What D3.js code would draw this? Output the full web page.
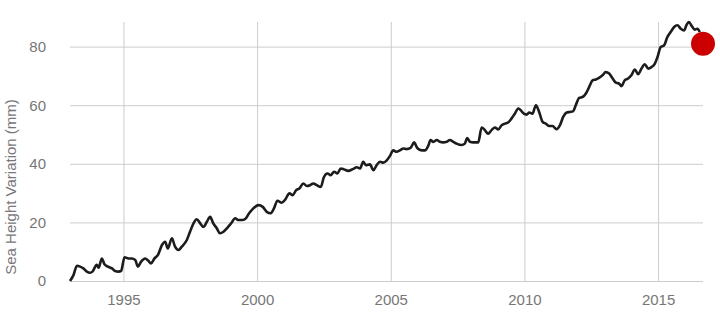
<!DOCTYPE html>
<html>
<head>
<meta charset="utf-8">
<script src="https://cdn.jsdelivr.net/npm/d3@7"></script>
<style>
  body { margin: 0; background: #fff; }
  svg { display: block; font-family: "Liberation Sans", Arial, Helvetica, sans-serif; }
  .grid line { stroke: #cccccc; stroke-width: 1; }
  .grid text { fill: #777; font-size: 15px; }
  .label { fill: #777; font-size: 15px; }
</style>
</head>
<body>
<script>
// satellite sea height variation
var years = [
  1993.0, 1993.13, 1993.26, 1993.38, 1993.5, 1993.63, 1993.75, 1993.84, 1994.0, 1994.07,
  1994.19, 1994.29, 1994.42, 1994.57, 1994.69, 1994.81, 1994.91, 1995.04, 1995.19, 1995.31,
  1995.44, 1995.54, 1995.66, 1995.81, 1995.93, 1996.03, 1996.16, 1996.29, 1996.44, 1996.56,
  1996.66, 1996.81, 1996.93, 1997.06, 1997.18, 1997.37, 1997.49, 1997.62, 1997.74, 1997.87,
  1997.99, 1998.12, 1998.24, 1998.36, 1998.49, 1998.61, 1998.74, 1998.87, 1999.03, 1999.18,
  1999.3, 1999.45, 1999.58, 1999.7, 1999.86, 2000.05, 2000.21, 2000.36, 2000.51, 2000.63,
  2000.76, 2000.92, 2001.05, 2001.21, 2001.33, 2001.46, 2001.58, 2001.73, 2001.86, 2001.98,
  2002.1, 2002.23, 2002.38, 2002.5, 2002.63, 2002.75, 2002.88, 2003.0, 2003.13, 2003.25,
  2003.41, 2003.58, 2003.73, 2003.85, 2003.97, 2004.07, 2004.22, 2004.35, 2004.47, 2004.6,
  2004.72, 2004.85, 2004.97, 2005.09, 2005.22, 2005.34, 2005.47, 2005.59, 2005.74, 2005.87,
  2005.99, 2006.16, 2006.28, 2006.4, 2006.49, 2006.59, 2006.72, 2006.84, 2006.96, 2007.09,
  2007.21, 2007.34, 2007.46, 2007.65, 2007.77, 2007.86, 2007.96, 2008.08, 2008.27, 2008.4,
  2008.52, 2008.64, 2008.77, 2008.9, 2009.02, 2009.15, 2009.27, 2009.39, 2009.52, 2009.64,
  2009.77, 2009.89, 2009.98, 2010.08, 2010.18, 2010.3, 2010.43, 2010.55, 2010.68, 2010.8,
  2010.93, 2011.05, 2011.2, 2011.33, 2011.45, 2011.58, 2011.7, 2011.82, 2011.92, 2012.05,
  2012.17, 2012.3, 2012.42, 2012.55, 2012.67, 2012.79, 2012.92, 2013.04, 2013.17, 2013.3,
  2013.42, 2013.54, 2013.63, 2013.75, 2013.88, 2014.0, 2014.13, 2014.25, 2014.38, 2014.5,
  2014.63, 2014.75, 2014.88, 2014.98, 2015.1, 2015.22, 2015.35, 2015.47, 2015.6, 2015.72,
  2015.85, 2015.97, 2016.06, 2016.15, 2016.27, 2016.37, 2016.47, 2016.56
];
var heights = [
  0, 2, 5.2, 4.9, 4.3, 3.2, 2.8, 3.2, 5.5, 4.5,
  7.7, 5.7, 4.9, 4.3, 3.4, 3.2, 3.4, 8.1, 7.7, 7.7,
  7.2, 4.9, 6.6, 7.7, 6.9, 6.0, 7.7, 8.9, 12.3, 13.4,
  11.1, 14.6, 11.7, 10.6, 11.7, 14, 16.8, 19.7, 21.1, 19.7,
  18.5, 20.2, 21.9, 19.7, 18, 16.3, 16.8, 18, 19.7, 21.4,
  20.8, 20.8, 21.4, 23.1, 24.8, 25.9, 25.3, 23.6, 23.1, 24.8,
  27.4, 26.7, 27.8, 29.9, 29.3, 31, 31.6, 33.3, 32.4, 32.7,
  33.3, 32.7, 32.1, 35.5, 36.7, 36.1, 37.3, 36.7, 38.4, 38.1,
  37.6, 38.2, 38.8, 38.4, 40.7, 39.5, 39.8, 37.8, 39.5, 40.7,
  40.4, 41.2, 42.7, 44.6, 44.1, 44.6, 45.2, 45, 45.4, 47.3,
  45.4, 44.6, 44.6, 46.1, 48.1, 47.5, 48.1, 47.5, 47.3, 47.5,
  48.1, 47.5, 46.9, 46.4, 46.9, 48.8, 47.5, 47.3, 47.3, 52.4,
  51.5, 50.3, 51.5, 52.4, 51.7, 53.2, 53.7, 54.1, 55.5, 57.1,
  58.9, 58, 57.1, 56.8, 57.5, 57.1, 60, 57.7, 54.3, 53.7,
  52.9, 52.9, 51.8, 53.2, 56, 57.5, 57.7, 57.9, 60, 62.5,
  62.8, 64, 66.2, 68.5, 68.8, 69.3, 70.2, 71.3, 70.8, 69.1,
  67.7, 67.4, 66.5, 68.5, 69.1, 70.2, 72.2, 70.6, 72.5, 74,
  72.5, 73, 74.2, 76.5, 79.9, 80.4, 83.3, 85, 86.7, 87.3,
  86.1, 85.5, 87.3, 88.4, 86.9, 85.8, 86.1, 85
];
var latestYear = 2016.68;
var latestHeight = 81;

var xTicks = [1995, 2000, 2005, 2010, 2015];
var yTicks = [0, 20, 40, 60, 80];

var width = 720;
var height = 319;
var margin = {top: 22, right: 17, bottom: 38, left: 70};
var innerW = width - margin.left - margin.right;
var innerH = height - margin.top - margin.bottom;

var data = years.map(function(y, i) { return {year: y, value: heights[i]}; });

var svg = d3.select("body").append("svg")
    .attr("width", width)
    .attr("height", height);

var g = svg.append("g")
    .attr("transform", "translate(" + margin.left + "," + margin.top + ")");

var x = d3.scaleLinear()
    .domain([1993, latestYear])
    .range([0, innerW]);

var y = d3.scaleLinear()
    .domain([0, 88.4])
    .range([innerH, 0]);

// horizontal grid + y labels
g.append("g")
    .attr("class", "grid")
    .call(d3.axisLeft(y).tickValues(yTicks).tickSize(-innerW).tickPadding(24))
    .call(function(s) { s.select(".domain").remove(); });

// vertical grid + year labels
g.append("g")
    .attr("class", "grid")
    .attr("transform", "translate(0," + innerH + ")")
    .call(d3.axisBottom(x).tickValues(xTicks).tickFormat(d3.format("d")).tickSize(-innerH).tickPadding(13))
    .call(function(s) { s.select(".domain").remove(); });

svg.append("text")
    .attr("class", "label")
    .attr("transform", "translate(16,187) rotate(-90)")
    .attr("text-anchor", "middle")
    .text("Sea Height Variation (mm)");

var line = d3.line()
    .x(function(d) { return x(d.year); })
    .y(function(d) { return y(d.value); })
    .curve(d3.curveMonotoneX);

g.append("path")
    .datum(data)
    .attr("fill", "none")
    .attr("stroke", "#1c1c1c")
    .attr("stroke-width", 2.6)
    .attr("stroke-linejoin", "round")
    .attr("d", line);

g.append("circle")
    .attr("cx", x(latestYear))
    .attr("cy", y(latestHeight))
    .attr("r", 12)
    .attr("fill", "#cc0000");
</script>
</body>
</html>
